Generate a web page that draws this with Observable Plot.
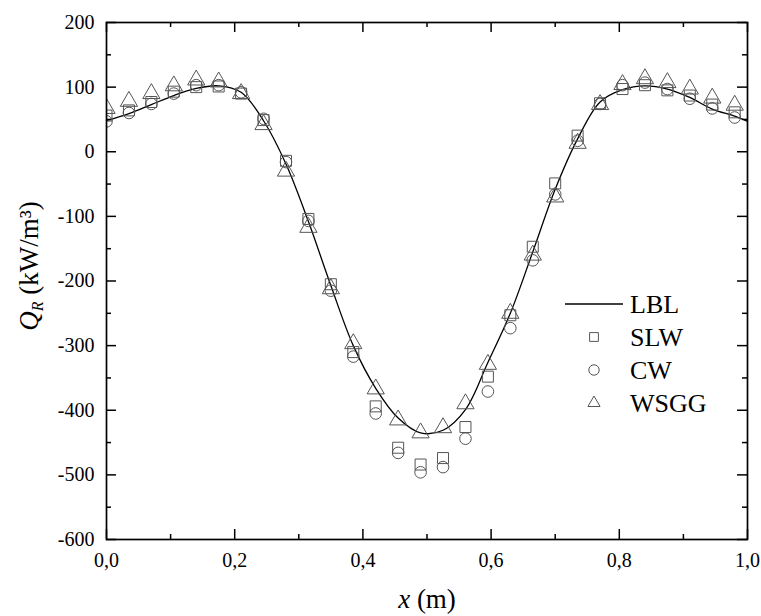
<!DOCTYPE html>
<html><head><meta charset="utf-8">
<script src="https://cdn.jsdelivr.net/npm/d3@7"></script>
<script src="https://cdn.jsdelivr.net/npm/@observablehq/plot@0.6"></script>
<style>
body{margin:0;background:#fff}
#chart{width:761px;height:616px}
#chart svg, #chart svg text{font-family:"Liberation Serif","Times New Roman",serif !important}
</style>
</head><body><div id="chart"></div>
<script>
// ---- data ----
const xs = [0,0.035,0.07,0.105,0.14,0.175,0.21,0.245,0.28,0.315,0.35,0.385,0.42,0.455,0.49,0.525,0.56,0.595,0.63,0.665,0.7,0.735,0.77,0.805,0.84,0.875,0.91,0.945,0.98];
const lblX = [0,0.035,0.07,0.105,0.14,0.175,0.21,0.245,0.28,0.315,0.35,0.385,0.42,0.455,0.49,0.525,0.56,0.595,0.63,0.665,0.7,0.735,0.77,0.805,0.84,0.875,0.91,0.945,0.98,1.0];
const lblY = [48,59,73,87,98,102,92,48,-19,-108,-207,-300,-366,-412,-435,-431,-399,-326,-250,-155,-58,20,77,96,102,97,84,66,55,47];
const slwY = [56,64,77,93,100,101,90,49,-14,-104,-205,-310,-394,-458,-484,-474,-426,-348,-253,-147,-49,25,75,97,103,95,87,73,61];
const cwY  = [47,60,74,90,103,103,92,51,-16,-107,-215,-317,-405,-466,-496,-488,-444,-371,-273,-168,-66,17,74,103,107,97,82,67,53];
const wsggY= [67,78,90,102,111,108,90,42,-30,-117,-212,-297,-367,-415,-435,-427,-390,-329,-250,-160,-70,13,73,104,113,107,97,83,72];
const xTicks = [0,0.2,0.4,0.6,0.8,1.0];
const xMinor = [0.1,0.3,0.5,0.7,0.9];
const yTicks = [-600,-500,-400,-300,-200,-100,0,100,200];
const yMinor = [-550,-450,-350,-250,-150,-50,50,150];
const seriesNames = ["LBL","SLW","CW","WSGG"];

// ---- layout ----
const W = 761, H = 616, mL = 106, mR = 14, mT = 22, mB = 77;
const plotW = W - mL - mR, plotH = H - mT - mB;
const FONT = '"Liberation Serif","Times New Roman",serif';
const MK = "#555";
const rSq = 6.2, rCi = 5.8, rTr = 6.4;

const pts = xs.map((x, i) => ({x, slw: slwY[i], cw: cwY[i], wsgg: wsggY[i]}));
const lbl = lblX.map((x, i) => ({x, y: lblY[i]}));
const fmtX = d => d.toFixed(1).replace(".", ",");
const fmtY = d => String(d);

const chart = Plot.plot({
  width: W, height: H,
  marginLeft: mL, marginRight: mR, marginTop: mT, marginBottom: mB,
  style: {fontSize: "20px", color: "#000", background: "#fff", overflow: "visible"},
  x: {domain: [0, 1]},
  y: {domain: [-600, 200]},
  marks: [
    Plot.axisX(xTicks, {tickSize: 0, tickPadding: 13, tickFormat: fmtX, fontSize: 20, label: null}),
    Plot.axisY(yTicks, {tickSize: 0, tickPadding: 12, tickFormat: fmtY, fontSize: 20, label: null}),
    // inward ticks: bottom / top
    Plot.ruleX(xTicks, {insetTop: plotH - 10, stroke: "#000", strokeWidth: 1.5}),
    Plot.ruleX(xMinor, {insetTop: plotH - 5, stroke: "#000", strokeWidth: 1.5}),
    Plot.ruleX(xTicks, {insetBottom: plotH - 10, stroke: "#000", strokeWidth: 1.5}),
    Plot.ruleX(xMinor, {insetBottom: plotH - 5, stroke: "#000", strokeWidth: 1.5}),
    // inward ticks: left / right
    Plot.ruleY(yTicks, {insetRight: plotW - 10, stroke: "#000", strokeWidth: 1.5}),
    Plot.ruleY(yMinor, {insetRight: plotW - 5, stroke: "#000", strokeWidth: 1.5}),
    Plot.ruleY(yTicks, {insetLeft: plotW - 10, stroke: "#000", strokeWidth: 1.5}),
    Plot.ruleY(yMinor, {insetLeft: plotW - 5, stroke: "#000", strokeWidth: 1.5}),
    Plot.line(lbl, {x: "x", y: "y", curve: "catmull-rom", stroke: "#000", strokeWidth: 1.3}),
    Plot.dot(pts, {x: "x", y: "slw", symbol: "square", r: rSq, stroke: MK, fill: "none", strokeWidth: 1, clip: true}),
    Plot.dot(pts, {x: "x", y: "cw", symbol: "circle", r: rCi, stroke: MK, fill: "none", strokeWidth: 1, clip: true}),
    Plot.dot(pts, {x: "x", y: "wsgg", symbol: "triangle", r: rTr, stroke: MK, fill: "none", strokeWidth: 1, clip: true}),
    Plot.frame({stroke: "#000", strokeWidth: 1.7})
  ]
});
document.getElementById("chart").appendChild(chart);

// ---- axis titles & legend ----
const svg = d3.select(chart);
const xt = svg.append("text").attr("x", 427).attr("y", 608).attr("text-anchor", "middle")
  .attr("font-family", FONT).attr("font-size", 27).attr("fill", "#000");
xt.append("tspan").attr("font-style", "italic").text("x");
xt.append("tspan").text(" (m)");

const yt = svg.append("text").attr("transform", "translate(38,266) rotate(-90)").attr("text-anchor", "middle")
  .attr("font-family", FONT).attr("font-size", 27).attr("fill", "#000");
yt.append("tspan").attr("font-style", "italic").text("Q");
yt.append("tspan").attr("font-style", "italic").attr("font-size", 16).attr("dy", 5).text("R");
yt.append("tspan").attr("dy", -5).text(" (kW/m³)");

const lg = svg.append("g").attr("font-family", FONT).attr("font-size", 26).attr("text-anchor", "start");
const lx = 630, ly0 = 304, step = 33;
lg.append("line").attr("x1", 565).attr("x2", 623).attr("y1", ly0).attr("y2", ly0).attr("stroke", "#000").attr("stroke-width", 1.3);
const syms = [null, [d3.symbolSquare2, rSq - 0.6], [d3.symbolCircle, rCi - 0.6], [d3.symbolTriangle2, rTr - 0.6]];
seriesNames.forEach((name, i) => {
  const y = ly0 + i * step;
  if (syms[i]) {
    lg.append("path").attr("transform", `translate(594,${y})`)
      .attr("d", d3.symbol(syms[i][0], Math.PI * syms[i][1] ** 2)())
      .attr("fill", "none").attr("stroke", MK).attr("stroke-width", 1);
  }
  lg.append("text").attr("x", lx).attr("y", y).attr("dy", "0.35em").attr("text-anchor", "start").attr("fill", "#000").text(name);
});
</script>
</body></html>
